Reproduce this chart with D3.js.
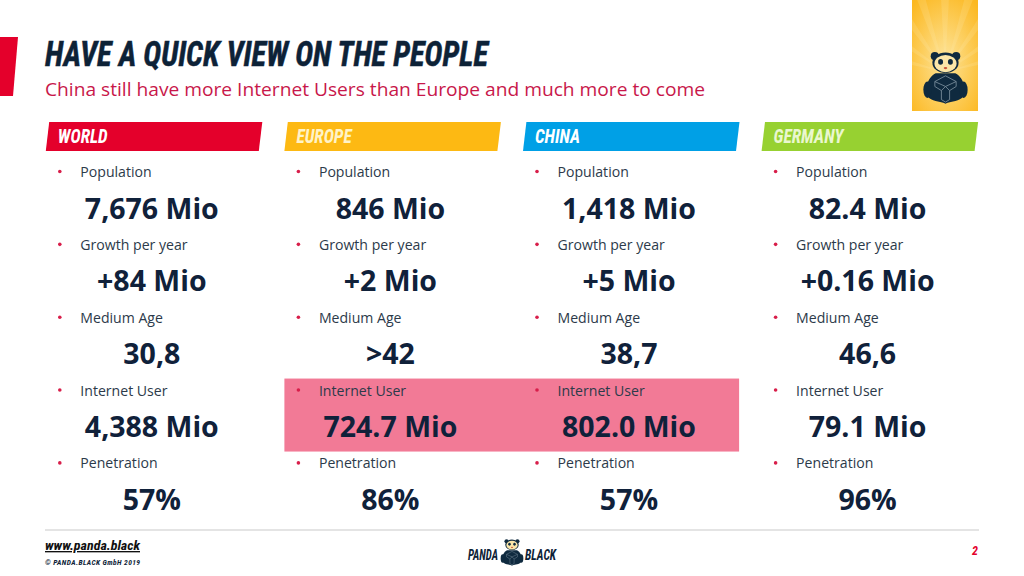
<!DOCTYPE html>
<html><head><meta charset="utf-8">
<script src="https://cdn.jsdelivr.net/npm/d3@7/dist/d3.min.js"></script>
<style>html,body{margin:0;padding:0;background:#fff;overflow:hidden}svg{display:block}</style>
</head><body><svg id="c" width="1024" height="576"></svg>
<script>
const regions = ["WORLD","EUROPE","CHINA","GERMANY"];
const regionColors = ["#e4002b","#fdb913","#00a0e6","#97d131"];
const metrics = ["Population","Growth per year","Medium Age","Internet User","Penetration"];
const worldValues = ["7,676 Mio","+84 Mio","30,8","4,388 Mio","57%"];
const europeValues = ["846 Mio","+2 Mio",">42","724.7 Mio","86%"];
const chinaValues = ["1,418 Mio","+5 Mio","38,7","802.0 Mio","57%"];
const germanyValues = ["82.4 Mio","+0.16 Mio","46,6","79.1 Mio","96%"];
const allValues = [worldValues,europeValues,chinaValues,germanyValues];
const highlightedRegions = ["EUROPE","CHINA"];
const highlightedMetric = "Internet User";

const NAVY="#0d2237", CRIM="#c8174a", OPEN="'Open Sans','Noto Sans',sans-serif", NARROW="'Liberation Sans Narrow','Roboto Condensed','Liberation Sans',sans-serif";
const svg=d3.select("#c");
const defs=svg.append("defs");
const g=defs.append("radialGradient").attr("id","sun").attr("cx","50%").attr("cy","55%").attr("r","70%");
g.append("stop").attr("offset","0%").attr("stop-color","#fde49a");
g.append("stop").attr("offset","100%").attr("stop-color","#fcb820");
defs.append("clipPath").attr("id","sunclip").append("rect").attr("x",912).attr("y",0).attr("width",66).attr("height",111);

const x=d3.scaleBand().domain(regions).range([45.8,1000.2]).paddingInner(0).paddingOuter(0);
const labelY=d3.scalePoint().domain(metrics).range([172,463.4]);
const valueY=d3.scalePoint().domain(metrics).range([208,499.5]);

svg.append("path").attr("d","M0,37H18L13,96H0Z").attr("fill","#e4002b");

svg.append("text").attr("x",45).attr("y",66).attr("font-family",NARROW).attr("font-weight",700).attr("font-style","italic")
 .attr("font-size",35).attr("fill",NAVY).attr("stroke",NAVY).attr("stroke-width",0.5).attr("textLength",443).attr("lengthAdjust","spacingAndGlyphs").text("HAVE A QUICK VIEW ON THE PEOPLE");
svg.append("text").attr("x",45).attr("y",96).attr("font-family",OPEN).attr("font-size",18.6).attr("fill",CRIM)
 .attr("textLength",660).attr("lengthAdjust","spacingAndGlyphs").text("China still have more Internet Users than Europe and much more to come");

const hl=highlightedRegions.map(r=>x(r));
svg.append("rect").attr("x",d3.min(hl)).attr("y",labelY(highlightedMetric)-12).attr("width",d3.max(hl)-d3.min(hl)+x.bandwidth()-22.5)
 .attr("height",73).attr("fill","#f27a96");

const col=svg.selectAll("g.col").data(regions).join("g").attr("class","col").attr("transform",d=>`translate(${x(d)},0)`);
col.append("path").attr("d","M3.4,122H216.5L213,151H0Z").attr("fill",(d,i)=>regionColors[i]);
col.append("text").attr("x",12).attr("y",143).attr("font-family",NARROW).attr("font-weight",700).attr("font-style","italic")
 .attr("font-size",20).text(d=>d).each(function(d){
   const t=d3.select(this);
   t.attr("fill",d==="EUROPE"?"#fff3c8":d==="GERMANY"?"#eaf7cf":"#fff");
   t.attr("textLength",this.getComputedTextLength()*0.87).attr("lengthAdjust","spacingAndGlyphs");
 });
col.each(function(r,ci){
  const c=d3.select(this);
  const rows=c.selectAll("g.row").data(metrics.map((m,i)=>({m,v:allValues[ci][i]}))).join("g").attr("class","row");
  rows.append("circle").attr("cx",14).attr("cy",d=>labelY(d.m)-0.5).attr("r",1.8).attr("fill","#d81e4a");
  rows.append("text").attr("x",34.5).attr("y",d=>labelY(d.m)+5).attr("font-family",OPEN).attr("font-size",14.1).attr("fill","#2c3a4a").text(d=>d.m);
  rows.append("text").attr("x",106).attr("y",d=>valueY(d.m)+10.5).attr("text-anchor","middle").attr("font-family",OPEN).attr("font-weight",700)
    .attr("font-size",28.5).attr("fill","#10213a").text(d=>d.v);
});

function panda(gr,cx,cy,s){
  const p=gr.append("g").attr("transform",`translate(${cx},${cy}) scale(${s})`);
  const ink="#0f2a3f";
  p.append("path").attr("d","M-12,-2C-24,4 -26,22 -20,28C-14,33 -4,32 0,35C4,32 14,33 20,28C26,22 24,4 12,-2Z").attr("fill",ink);
  p.append("ellipse").attr("cx",-22).attr("cy",18).attr("rx",5).attr("ry",10).attr("fill",ink);
  p.append("ellipse").attr("cx",22).attr("cy",18).attr("rx",5).attr("ry",10).attr("fill",ink);
  p.append("circle").attr("cx",-13).attr("cy",-23).attr("r",5).attr("fill",ink);
  p.append("circle").attr("cx",13).attr("cy",-23).attr("r",5).attr("fill",ink);
  p.append("ellipse").attr("cx",0).attr("cy",-15).attr("rx",16).attr("ry",12.5).attr("fill",ink);
  p.append("ellipse").attr("cx",0).attr("cy",-14).attr("rx",13.5).attr("ry",10.5).attr("fill","#fbe6a8");
  p.append("ellipse").attr("cx",-6).attr("cy",-16).attr("rx",3).attr("ry",3.4).attr("fill",ink);
  p.append("ellipse").attr("cx",6).attr("cy",-16).attr("rx",3).attr("ry",3.4).attr("fill",ink);
  p.append("ellipse").attr("cx",0).attr("cy",-8.5).attr("rx",2.2).attr("ry",1.4).attr("fill","#c8553a");
  p.append("path").attr("d","M0,1L13,8V14L5,19V30L0,33L-5,30V19L-13,14V8Z M-13,8L0,14L13,8 M-5,19L0,14L5,19").attr("fill","none").attr("stroke","#7f93a0").attr("stroke-width",1);
}
svg.append("rect").attr("x",912).attr("y",0).attr("width",66).attr("height",111).attr("fill","url(#sun)");
const rays=svg.append("g").attr("clip-path","url(#sunclip)");
[-75,-55,-35,-18,0,18,35,55,75].forEach(a=>{
  rays.append("path").attr("d","M0,0L-7,-130L7,-130Z").attr("fill","#fff0b8").attr("opacity",0.18)
    .attr("transform",`translate(945,72) rotate(${a})`);
});
panda(svg,945.5,75,0.82);

svg.append("line").attr("x1",45).attr("x2",979).attr("y1",530).attr("y2",530).attr("stroke","#c9c9c9").attr("stroke-width",1);
svg.append("text").attr("x",45).attr("y",550).attr("font-family",NARROW).attr("font-weight",700).attr("font-style","italic").attr("font-size",13.5)
 .attr("fill","#111").attr("text-decoration","underline").attr("textLength",95).attr("lengthAdjust","spacingAndGlyphs").text("www.panda.black");
svg.append("text").attr("x",45).attr("y",565).attr("font-family",NARROW).attr("font-weight",700).attr("font-style","italic").attr("font-size",7.5)
 .attr("fill",NAVY).attr("textLength",95).attr("lengthAdjust","spacing").text("©  PANDA.BLACK GmbH  2019");
svg.append("text").attr("x",468).attr("y",560).attr("font-family",NARROW).attr("font-weight",700).attr("font-style","italic").attr("font-size",14)
 .attr("fill",NAVY).attr("textLength",30).attr("lengthAdjust","spacingAndGlyphs").text("PANDA");
svg.append("text").attr("x",525).attr("y",560).attr("font-family",NARROW).attr("font-weight",700).attr("font-style","italic").attr("font-size",14)
 .attr("fill",NAVY).attr("textLength",31).attr("lengthAdjust","spacingAndGlyphs").text("BLACK");
panda(svg,512,551,0.42);
svg.append("text").attr("x",975).attr("y",555).attr("text-anchor","middle").attr("font-family",NARROW).attr("font-weight",700).attr("font-style","italic").attr("font-size",12).attr("fill","#e4002b").text("2");
</script></body></html>
